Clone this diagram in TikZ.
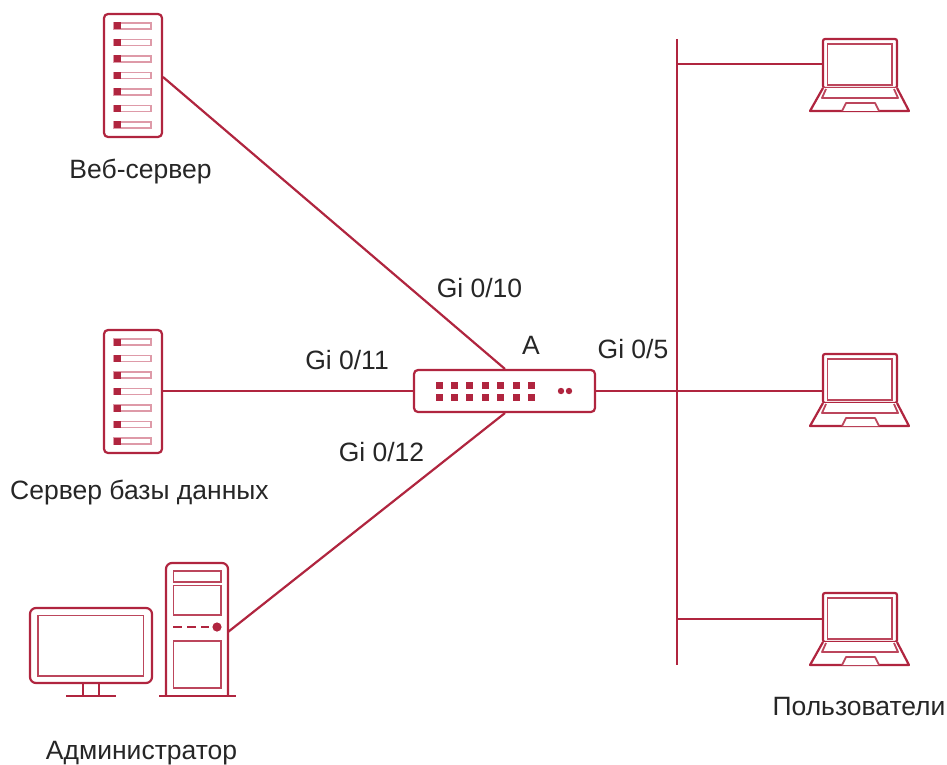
\documentclass[tikz,border=0pt]{standalone}
\usepackage{fontspec}
\setmainfont{Liberation Sans}
\definecolor{wine}{HTML}{B0253F}
\definecolor{winelight}{HTML}{DE9AA8}
\definecolor{labelc}{HTML}{262626}
\tikzset{
 x=1pt,y=-1pt,
 wire/.style={draw=wine,line width=2.2pt},
 icon/.style={draw=wine,line width=2.2pt,fill=white},
 iconthin/.style={draw=wine!85,line width=1.8pt,fill=white},
 lbl/.style={text=labelc,font=\fontsize{26.5}{26.5}\selectfont,inner sep=0pt,anchor=center},
 pics/srv/.style={code={
   \draw[icon,rounded corners=4pt] (0,0) rectangle (58,123);
   \foreach \k in {0,...,6}{
     \draw[draw=winelight,line width=1.6pt,fill=white] (10,{9+16.5*\k}) rectangle (47,{15+16.5*\k});
     \fill[wine] (9.5,{8.5+16.5*\k}) rectangle (17,{15.5+16.5*\k});
   }
 }},
 pics/lap/.style={code={
   \draw[icon,rounded corners=2pt] (823,39) rectangle (897,88);
   \draw[iconthin] (827.5,44) rectangle (892,85);
   \draw[icon,line join=round] (823,88) -- (810,111) -- (909,111) -- (897,88);
   \draw[iconthin,line join=round] (826,89) -- (822,98) -- (898,98) -- (894,89);
   \draw[iconthin,line join=round] (842,111) -- (846,103) -- (875,103) -- (879,111);
 }}
}
\begin{document}
\begin{tikzpicture}
\useasboundingbox (0,0) rectangle (947,765);
% anchors
\coordinate (srvA) at (163,77);
\coordinate (srvB) at (162,391);
\coordinate (pcEnd) at (228,632);
\coordinate (swTop) at (505,369);
\coordinate (swLeft) at (414,391);
\coordinate (swBot) at (505,413);
\coordinate (swRight) at (595,391);
\coordinate (busTop) at (677,39);
\coordinate (busBot) at (677,665);
\coordinate (busA) at (677,64);
\coordinate (busB) at (677,391);
\coordinate (busC) at (677,619);
\coordinate (lapA) at (823,64);
\coordinate (lapB) at (823,391);
\coordinate (lapC) at (823,619);
% connectors
\draw[wire] (srvA) -- (swTop);
\draw[wire] (srvB) -- (swLeft);
\draw[wire] (pcEnd) -- (swBot);
\draw[wire] (swRight) -- (busB) -- (lapB);
\draw[wire] (busTop) -- (busBot);
\draw[wire] (busA) -- (lapA);
\draw[wire] (busC) -- (lapC);
% servers
\pic at (104,14) {srv};
\pic at (104,330) {srv};
% switch
\draw[icon,rounded corners=4pt] (414,370) rectangle (595,412);
\foreach \i in {0,...,6}{
  \fill[wine] ({435.5+15.45*\i},381.5) rectangle ++(7,7);
  \fill[wine] ({435.5+15.45*\i},393.5) rectangle ++(7,7);
}
\fill[wine] (561,391) circle (3.2pt);
\fill[wine] (569,391) circle (3.2pt);
% monitor
\draw[icon,rounded corners=6pt] (30,608) rectangle (152,683);
\draw[iconthin] (38,615.5) rectangle (143.5,676);
\draw[icon] (83,683) -- (83,696);
\draw[icon] (99,683) -- (99,696);
\draw[icon] (66,696) -- (116,696);
% tower
\draw[icon,rounded corners=6pt] (166,696) -- (166,563) -- (228,563) -- (228,696);
\draw[icon] (159,696) -- (236,696);
\draw[iconthin] (173.5,571) rectangle (221,582);
\draw[iconthin] (173.5,585.5) rectangle (221,615);
\draw[iconthin] (173.5,641) rectangle (221,688);
\draw[draw=wine,line width=2.2pt,dash pattern=on 9pt off 5pt] (173,627) -- (209,627);
\fill[wine] (217,627) circle (4.6pt);
% laptops
\pic at (0,0) {lap};
\pic at (0,315) {lap};
\pic at (0,554) {lap};
% labels
\node[lbl] (tA) at (140.5,171.5) {Веб-сервер};
\node[lbl] (tB) at (139.5,492.5) {Сервер базы данных};
\node[lbl] (tC) at (141.5,753) {Администратор};
\node[lbl] (tD) at (859,707) {Пользователи};
\node[lbl] (g10) at (479.5,288) {Gi 0/10};
\node[lbl] (g11) at (347,360) {Gi 0/11};
\node[lbl] (g12) at (381.5,452) {Gi 0/12};
\node[lbl] (g5) at (633,349) {Gi 0/5};
\node[lbl] (a) at (531,345) {A};
\end{tikzpicture}
\end{document}
